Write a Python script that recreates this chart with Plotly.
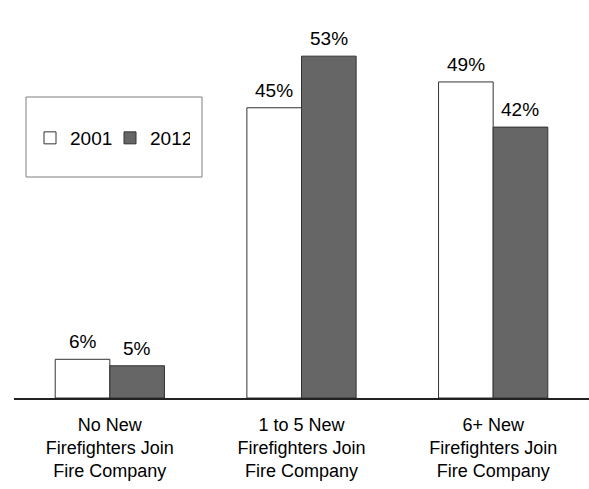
import plotly.graph_objects as go

categories = ["No New<br>Firefighters Join<br>Fire Company",
              "1 to 5 New<br>Firefighters Join<br>Fire Company",
              "6+ New<br>Firefighters Join<br>Fire Company"]
values_2001 = [6, 45, 49]
values_2012 = [5, 53, 42]
labels_2001 = ["6%", "45%", "49%"]
labels_2012 = ["5%", "53%", "42%"]

FONT = "Liberation Sans, Arial, sans-serif"

L, R, T, B = 14, 0, 10, 91
W, H = 589, 489
pw, ph = W - L - R, H - T - B
BARGAP = 0.43

fig = go.Figure()
fig.add_trace(go.Bar(
    name="2001", x=categories, y=values_2001,
    marker=dict(color="white", line=dict(color="#333333", width=1)),
))
fig.add_trace(go.Bar(
    name="2012", x=categories, y=values_2012,
    marker=dict(color="#666666", line=dict(color="#333333", width=1)),
))

# value labels above each bar
cat_px = pw / len(categories)
half_bar = cat_px * (1 - BARGAP) / 4
for vals, labs, sign in [(values_2001, labels_2001, -1), (values_2012, labels_2012, 1)]:
    for c, v, t in zip(categories, vals, labs):
        fig.add_annotation(x=c, y=v, text=t, showarrow=False, xref="x", yref="y",
                           yanchor="bottom", xanchor="center",
                           xshift=sign * half_bar, yshift=5,
                           font=dict(size=19, color="black", family=FONT))

def px_x(x):
    return (x - L) / pw

def px_y(y):
    return (H - B - y) / ph

fig.add_shape(type="rect", xref="paper", yref="paper",
              x0=px_x(26), x1=px_x(202), y0=px_y(177), y1=px_y(97),
              line=dict(color="#7f7f7f", width=1), fillcolor="rgba(0,0,0,0)")

fig.update_layout(
    width=W, height=H,
    margin=dict(l=L, r=R, t=T, b=B),
    paper_bgcolor="white", plot_bgcolor="white",
    barmode="group", bargap=BARGAP, bargroupgap=0,
    font=dict(family=FONT, color="black"),
    showlegend=True,
    legend=dict(orientation="h", x=px_x(30), y=px_y(138), xanchor="left", yanchor="middle",
                bgcolor="rgba(0,0,0,0)", borderwidth=0,
                font=dict(size=19, family=FONT, color="black"),
                entrywidth=35, traceorder="normal"),
    xaxis=dict(showline=True, linecolor="#222222", linewidth=2, ticks="",
               ticklabelstandoff=9,
               tickfont=dict(size=18, family=FONT, color="black"), showgrid=False),
    yaxis=dict(range=[0, ph / 6.45], visible=False, showgrid=False, zeroline=False),
)

fig.write_html("out.html")
